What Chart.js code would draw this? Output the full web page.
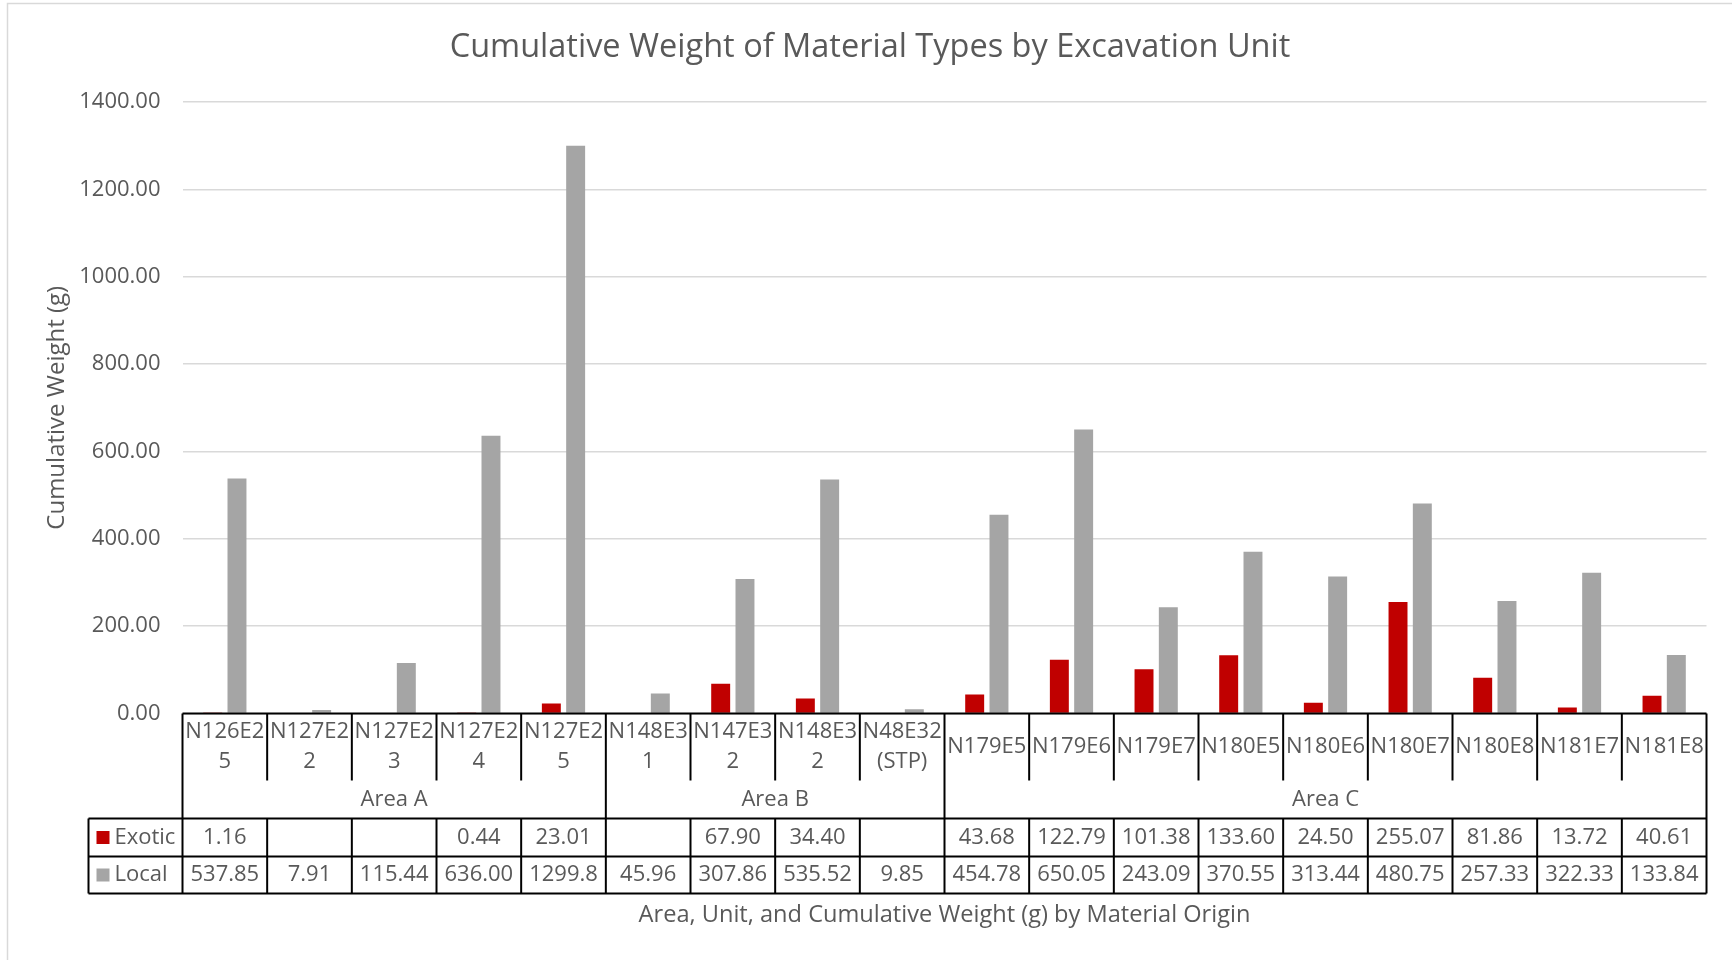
<!DOCTYPE html>
<html>
<head>
<meta charset="utf-8">
<script src="https://cdn.jsdelivr.net/npm/chart.js@4.4.1/dist/chart.umd.min.js"></script>
<style>
  html, body { margin: 0; padding: 0; background: #fff; }
  canvas { display: block; }
</style>
</head>
<body>
<canvas id="chart" width="1732" height="960"></canvas>
<script>
// excavation units (wrapped like the Excel data table)
const units = [
    ['N126E2', '5'], ['N127E2', '2'], ['N127E2', '3'], ['N127E2', '4'], ['N127E2', '5'],
    ['N148E3', '1'], ['N147E3', '2'], ['N148E3', '2'], ['N48E32', '(STP)'],
    ['N179E5'], ['N179E6'], ['N179E7'], ['N180E5'], ['N180E6'], ['N180E7'], ['N180E8'], ['N181E7'], ['N181E8']
];
const areas = ['Area A', 'Area B', 'Area C'];
const areaSizes = [5, 4, 9];

const exotic = [1.16, null, null, 0.44, 23.01, null, 67.90, 34.40, null,
    43.68, 122.79, 101.38, 133.60, 24.50, 255.07, 81.86, 13.72, 40.61];
const local = [537.85, 7.91, 115.44, 636.00, 1299.8, 45.96, 307.86, 535.52, 9.85,
    454.78, 650.05, 243.09, 370.55, 313.44, 480.75, 257.33, 322.33, 133.84];

const yMin = 0;
const yMax = 1400;
const yStep = 200;

const textColor = '#595959';
const fontFamily = '"Open Sans", sans-serif';
const exoticColor = '#C00000';
const localColor = '#A5A5A5';

const series = [
    { name: 'Exotic', values: exotic, color: exoticColor },
    { name: 'Local', values: local, color: localColor }
];

// white background + light chart border
const background = {
    id: 'background',
    beforeDraw(chart) {
        const ctx = chart.ctx;
        ctx.save();
        ctx.fillStyle = '#fff';
        ctx.fillRect(0, 0, chart.width, chart.height);
        ctx.strokeStyle = '#d9d9d9';
        ctx.lineWidth = 1.5;
        ctx.strokeRect(7.5, 3.5, chart.width + 20, chart.height + 20);
        ctx.restore();
    }
};

function fitText(ctx, txt, maxW) {
    while (txt.length > 1 && ctx.measureText(txt).width > maxW) {
        txt = txt.slice(0, -1);
    }
    return txt;
}

// data table under the plot area, like Excel's "data table" option
const dataTable = {
    id: 'dataTable',
    afterDraw(chart) {
        const ctx = chart.ctx;
        const xs = chart.scales.x;
        const area = chart.chartArea;
        const n = units.length;
        const colW = (area.right - area.left) / n;
        const colLeft = i => xs.getPixelForValue(i) - colW / 2;
        const left = area.left, right = area.right;
        const top = area.bottom;
        const catBottom = top + 67;
        const areaBottom = catBottom + 38;
        const exBottom = areaBottom + 38;
        const locBottom = exBottom + 37;
        const legLeft = 88.5;

        ctx.save();
        ctx.strokeStyle = '#000';
        ctx.lineWidth = 2;
        const line = (x1, y1, x2, y2) => {
            ctx.beginPath();
            ctx.moveTo(x1, y1);
            ctx.lineTo(x2, y2);
            ctx.stroke();
        };

        // horizontal rules
        line(left, top, right, top);
        line(legLeft, areaBottom, right, areaBottom);
        line(legLeft, exBottom, right, exBottom);
        line(legLeft, locBottom, right, locBottom);

        // verticals
        line(left, top, left, locBottom);
        line(right, top, right, locBottom);
        line(legLeft, areaBottom, legLeft, locBottom);
        let idx = 0;
        const groupEdges = new Set();
        areaSizes.forEach(s => { idx += s; groupEdges.add(idx); });
        for (let i = 1; i < n; i++) {
            const x = colLeft(i);
            line(x, top, x, groupEdges.has(i) ? areaBottom : catBottom);
            line(x, areaBottom, x, locBottom);
        }

        ctx.fillStyle = textColor;
        ctx.font = '22px ' + fontFamily;
        ctx.textAlign = 'center';
        ctx.textBaseline = 'middle';

        // unit labels
        const catMid = (top + catBottom) / 2;
        units.forEach((lines, i) => {
            const cx = xs.getPixelForValue(i);
            const lh = 30;
            const y0 = catMid - (lines.length - 1) * lh / 2;
            lines.forEach((t, k) => ctx.fillText(t, cx, y0 + k * lh));
        });

        // area labels
        let start = 0;
        areas.forEach((a, k) => {
            const x1 = colLeft(start);
            const x2 = colLeft(start + areaSizes[k] - 1) + colW;
            ctx.fillText(a, (x1 + x2) / 2, (catBottom + areaBottom) / 2);
            start += areaSizes[k];
        });

        // series rows
        const rows = [[areaBottom, exBottom], [exBottom, locBottom]];
        series.forEach((s, r) => {
            const cy = (rows[r][0] + rows[r][1]) / 2;
            ctx.fillStyle = s.color;
            ctx.fillRect(legLeft + 8, cy - 6.5, 13, 13);
            ctx.fillStyle = textColor;
            ctx.textAlign = 'left';
            ctx.fillText(s.name, legLeft + 26, cy);
            ctx.textAlign = 'center';
            s.values.forEach((v, i) => {
                if (v === null) return;
                const t = fitText(ctx, v.toFixed(2), colW - 4);
                ctx.fillText(t, xs.getPixelForValue(i), cy);
            });
        });

        // axis title
        ctx.font = '23.6px ' + fontFamily;
        ctx.textAlign = 'center';
        ctx.fillText('Area, Unit, and Cumulative Weight (g) by Material Origin', (left + right) / 2, 915);
        ctx.restore();
    }
};

new Chart(document.getElementById('chart'), {
    type: 'bar',
    data: {
        labels: units,
        datasets: series.map(s => ({
            label: s.name,
            data: s.values,
            backgroundColor: s.color,
            borderWidth: 0,
            categoryPercentage: 0.574,
            barPercentage: 0.78
        }))
    },
    options: {
        responsive: false,
        animation: false,
        devicePixelRatio: 1,
        layout: { padding: { left: 33.5, right: 25.5, top: 0, bottom: 246.5 } },
        plugins: {
            legend: { display: false },
            tooltip: { enabled: false },
            title: {
                display: true,
                text: 'Cumulative Weight of Material Types by Excavation Unit',
                color: textColor,
                font: { family: fontFamily, size: 32.5, weight: 'normal' },
                padding: { top: 28, bottom: 35 }
            }
        },
        scales: {
            x: { display: false },
            y: {
                min: yMin,
                max: yMax,
                afterFit: s => { s.width = 149; },
                border: { display: false },
                grid: { color: '#d9d9d9', lineWidth: 1.5, drawTicks: false },
                ticks: {
                    stepSize: yStep,
                    padding: 22,
                    color: textColor,
                    font: { family: fontFamily, size: 22 },
                    callback: v => v.toFixed(2)
                },
                title: {
                    display: true,
                    text: 'Cumulative Weight (g)',
                    color: textColor,
                    font: { family: fontFamily, size: 24 },
                    padding: { top: 9.5, bottom: 0 }
                }
            }
        }
    },
    plugins: [background, dataTable]
});
</script>
</body>
</html>
